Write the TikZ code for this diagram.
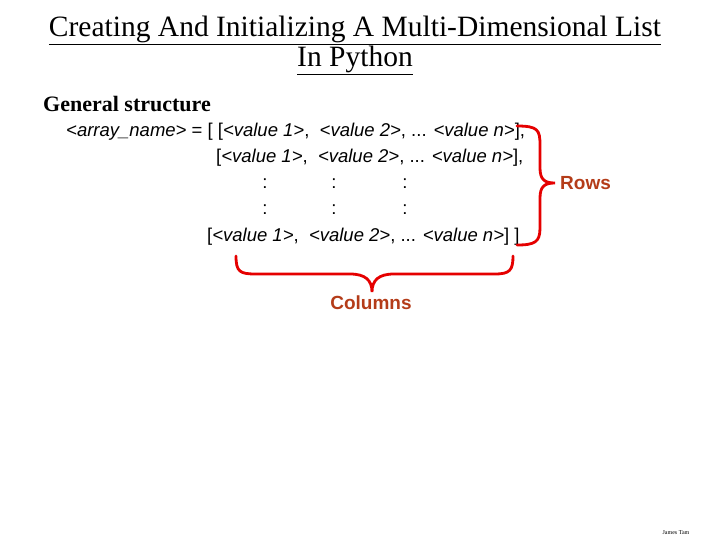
\documentclass[tikz,border=0pt]{standalone}
\usepackage{fontspec}
\setmainfont{Liberation Serif}
\newfontfamily\arial{Liberation Sans}
\newcommand{\val}[1]{\textit{<value #1>}}
\definecolor{labc}{RGB}{180,60,25}
\begin{document}
\begin{tikzpicture}[x=1pt,y=-1pt,
  body/.style={anchor=west,inner sep=0pt,font=\arial\fontsize{18.5}{20}\selectfont},
  lab/.style={inner sep=0pt,text=labc,font=\arial\bfseries\fontsize{19}{21}\selectfont},
  brace/.style={draw=red!90!black,line width=2.8pt,line cap=round}]
\useasboundingbox (0,0) rectangle (720,540);
\node[font=\fontsize{29.5}{30}\selectfont,align=center] (title) at (355,45) {\underline{Creating And Initializing A Multi-Dimensional List}\\\underline{In Python}};
\node[anchor=west,inner sep=0pt,font=\bfseries\fontsize{22}{24}\selectfont] (gen) at (43,104) {General structure};
\node[body] (l1) at (66,132) {\textit{<array\_name>} = [ [\val{1},\ \ \val{2}, ... \val{n}],};
\node[body] (l2) at (216,158) {[\val{1},\ \ \val{2}, ... \val{n}],};
\foreach \x/\n in {265/a,334/b,405/c}{
  \node[body,anchor=center] (c1\n) at (\x,184) {:};
  \node[body,anchor=center] (c2\n) at (\x,210) {:};}
\node[body] (l5) at (207,237) {[\val{1},\ \ \val{2}, ... \val{n}] ]};
\node[lab,anchor=west] (rows) at (560,183) {Rows};
\node[lab] (cols) at (371,303) {Columns};
\draw[brace] (517,126) .. controls (538,126) and (540,130) .. (540,145) -- (540,168)
  .. controls (540,180) and (545,183) .. (555,183)
  .. controls (545,183) and (540,186) .. (540,198) -- (540,228)
  .. controls (540,242) and (535,245) .. (517,245);
\draw[brace] (236,256) .. controls (236,272) and (240,274) .. (256,274) -- (350,274)
  .. controls (365,274) and (372,280) .. (372,292)
  .. controls (372,280) and (379,274) .. (394,274) -- (495,274)
  .. controls (510,274) and (513,270) .. (513,256);
\node[font=\fontsize{6}{7}\selectfont] (ft) at (676,533) {James Tam};
\end{tikzpicture}
\end{document}
